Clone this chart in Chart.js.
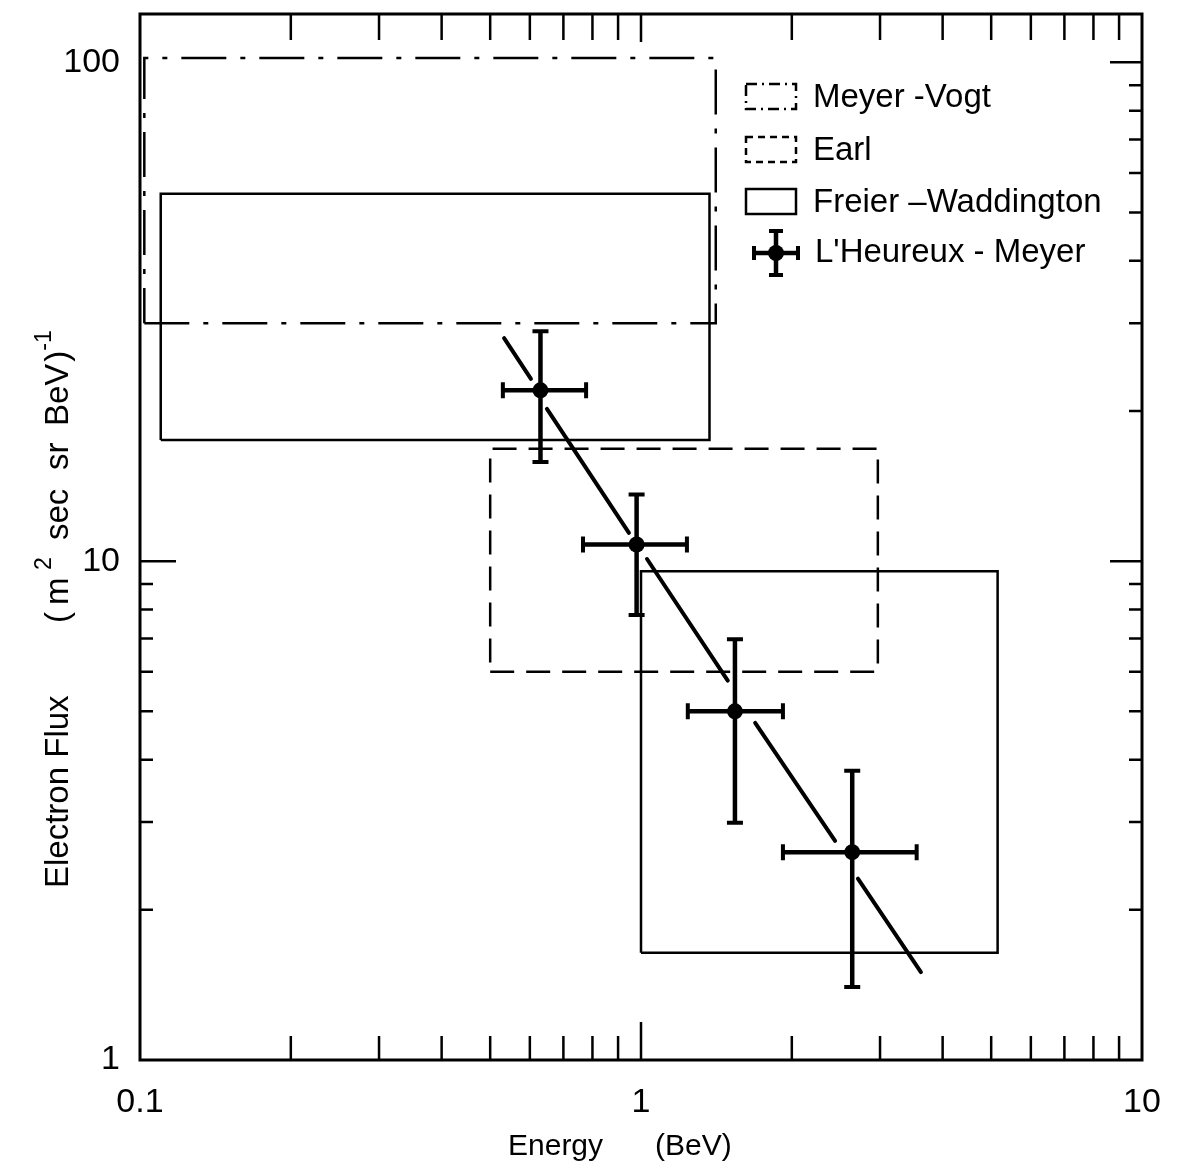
<!DOCTYPE html>
<html>
<head>
<meta charset="utf-8">
<title>Electron Flux vs Energy</title>
<script src="https://cdn.jsdelivr.net/npm/chart.js@4.4.1/dist/chart.umd.min.js"></script>
<style>
  html, body { margin: 0; padding: 0; background: #fff; }
  #wrap { width: 1180px; height: 1169px; }
</style>
</head>
<body>
<div id="wrap"><canvas id="fluxChart" width="1180" height="1169"></canvas></div>
<script>
// Tick values and labels
const xMajorTicks = [0.1, 1, 10];
const xTickLabels = ['0.1', '1', '10'];
const xMinorTicks = [0.2, 0.3, 0.4, 0.5, 0.6, 0.7, 0.8, 0.9, 2, 3, 4, 5, 6, 7, 8, 9];
const yMajorTicks = [1, 10, 100];
const yTickLabels = ['1', '10', '100'];
const yMinorTicksLow = [2, 3, 4, 5, 6, 7, 8, 9];
const yMinorTicksHigh = [20, 30, 40, 50, 60, 70, 80, 90];

const seriesLabels = ['Meyer -Vogt', 'Earl', 'Freier \u2013Waddington', "L'Heureux - Meyer"];

// boxes: [energy low, energy high, flux low, flux high]
const meyerVogtBox = [0.102, 1.41, 30, 102];
const earlBox = [0.5, 2.97, 6.0, 16.8];
const freierBoxA = [0.11, 1.37, 17.5, 54.5];
const freierBoxB = [1.0, 5.15, 1.64, 9.55];

// L'Heureux - Meyer points with error bars
const lhmEnergy = [0.63, 0.98, 1.54, 2.64];
const lhmFlux = [22.0, 10.8, 5.0, 2.61];
const lhmEnergyLo = [0.53, 0.766, 1.24, 1.92];
const lhmEnergyHi = [0.777, 1.235, 1.92, 3.55];
const lhmFluxLo = [15.8, 7.8, 2.99, 1.40];
const lhmFluxHi = [28.9, 13.6, 6.97, 3.80];

// fitted line, drawn broken around the points
const fitEnergy = [[0.533, 0.603], [0.649, 0.946], [1.028, 1.49], [1.69, 2.44], [2.71, 3.62]];
const fitFlux = [[28.0, 23.2], [20.2, 11.4], [10.1, 5.76], [4.74, 2.75], [2.31, 1.50]];

const FONT = '"Liberation Sans", Arial, sans-serif';

function boxPoints(b) {
    return [
        {x: b[0], y: b[2]}, {x: b[1], y: b[2]}, {x: b[1], y: b[3]},
        {x: b[0], y: b[3]}, {x: b[0], y: b[2]}
    ];
}

const freierPoints = boxPoints(freierBoxA).concat([{x: freierBoxA[0], y: null}], boxPoints(freierBoxB));

const fitPoints = [];
fitEnergy.forEach((seg, i) => {
    fitPoints.push({x: seg[0], y: fitFlux[i][0]});
    fitPoints.push({x: seg[1], y: fitFlux[i][1]});
    fitPoints.push({x: seg[1], y: null});
});

const lhmPoints = lhmEnergy.map((e, i) => ({x: e, y: lhmFlux[i]}));

// error bars, frame, inside ticks, legend and y title
const decorPlugin = {
    id: 'decor',
    afterDatasetsDraw(chart) {
        const ctx = chart.ctx;
        const xs = chart.scales.x, ys = chart.scales.y;
        ctx.save();
        ctx.strokeStyle = '#000';
        ctx.lineCap = 'butt';
        lhmEnergy.forEach((e, i) => {
            const px = xs.getPixelForValue(e);
            const py = ys.getPixelForValue(lhmFlux[i]);
            const x0 = xs.getPixelForValue(lhmEnergyLo[i]);
            const x1 = xs.getPixelForValue(lhmEnergyHi[i]);
            const y0 = ys.getPixelForValue(lhmFluxLo[i]);
            const y1 = ys.getPixelForValue(lhmFluxHi[i]);
            ctx.lineWidth = 4.5;
            ctx.beginPath();
            ctx.moveTo(x0, py); ctx.lineTo(x1, py);
            ctx.moveTo(px, y0); ctx.lineTo(px, y1);
            ctx.stroke();
            ctx.lineWidth = 4;
            ctx.beginPath();
            ctx.moveTo(x0, py - 8); ctx.lineTo(x0, py + 8);
            ctx.moveTo(x1, py - 8); ctx.lineTo(x1, py + 8);
            ctx.moveTo(px - 8, y0); ctx.lineTo(px + 8, y0);
            ctx.moveTo(px - 8, y1); ctx.lineTo(px + 8, y1);
            ctx.stroke();
        });
        ctx.restore();
    },
    afterDraw(chart) {
        const ctx = chart.ctx;
        const a = chart.chartArea;
        const xs = chart.scales.x, ys = chart.scales.y;
        ctx.save();
        ctx.strokeStyle = '#000';
        ctx.lineWidth = 3;
        ctx.strokeRect(a.left, a.top, a.right - a.left, a.bottom - a.top);

        ctx.lineWidth = 2.5;
        ctx.beginPath();
        // bottom and top ticks
        xMinorTicks.forEach(v => {
            const px = xs.getPixelForValue(v);
            ctx.moveTo(px, a.bottom); ctx.lineTo(px, a.bottom - 24);
            ctx.moveTo(px, a.top); ctx.lineTo(px, a.top + 26);
        });
        const p1 = xs.getPixelForValue(1);
        ctx.moveTo(p1, a.bottom); ctx.lineTo(p1, a.bottom - 38);
        ctx.moveTo(p1, a.top); ctx.lineTo(p1, a.top + 28);
        // left ticks (lower decade only) and right ticks
        yMinorTicksLow.forEach(v => {
            const py = ys.getPixelForValue(v);
            ctx.moveTo(a.left, py); ctx.lineTo(a.left + 13, py);
            ctx.moveTo(a.right, py); ctx.lineTo(a.right - 13, py);
        });
        yMinorTicksHigh.forEach(v => {
            const py = ys.getPixelForValue(v);
            ctx.moveTo(a.right, py); ctx.lineTo(a.right - 13, py);
        });
        [10, 100].forEach(v => {
            const py = ys.getPixelForValue(v);
            if (v === 10) { ctx.moveTo(a.left, py); ctx.lineTo(a.left + 36, py); }
            ctx.moveTo(a.right, py); ctx.lineTo(a.right - 32, py);
        });
        ctx.stroke();

        // legend
        ctx.fillStyle = '#000';
        ctx.font = '33px ' + FONT;
        ctx.textBaseline = 'alphabetic';
        ctx.lineWidth = 2.5;
        const dashes = [[11, 5, 2, 5], [7, 5], []];
        const rowTop = [84, 137, 189];
        rowTop.forEach((t, i) => {
            ctx.setLineDash(dashes[i]);
            ctx.strokeRect(746, t, 50, 25);
            ctx.setLineDash([]);
            ctx.fillText(seriesLabels[i], 813, t + 23);
        });
        const cx = 776, cy = 253;
        ctx.lineWidth = 4.5;
        ctx.beginPath();
        ctx.moveTo(cx - 22, cy); ctx.lineTo(cx + 22, cy);
        ctx.moveTo(cx, cy - 22); ctx.lineTo(cx, cy + 22);
        ctx.stroke();
        ctx.lineWidth = 4;
        ctx.beginPath();
        ctx.moveTo(cx - 22, cy - 7); ctx.lineTo(cx - 22, cy + 7);
        ctx.moveTo(cx + 22, cy - 7); ctx.lineTo(cx + 22, cy + 7);
        ctx.moveTo(cx - 7, cy - 22); ctx.lineTo(cx + 7, cy - 22);
        ctx.moveTo(cx - 7, cy + 22); ctx.lineTo(cx + 7, cy + 22);
        ctx.stroke();
        ctx.beginPath();
        ctx.arc(cx, cy, 8, 0, Math.PI * 2);
        ctx.fill();
        ctx.fillText(seriesLabels[3], 815, 262);

        // x title
        ctx.font = '30px ' + FONT;
        ctx.fillText('Energy', 508, 1155);
        ctx.fillText('(BeV)', 655, 1155);

        // y title, rotated, with superscripts
        ctx.translate(68, 890);
        ctx.rotate(-Math.PI / 2);
        const pieces = [
            ['Electron Flux', 0, false], ['(', 267, false], ['m', 285, false], ['2', 320, true],
            ['sec', 350, false], ['sr', 420, false], ['BeV', 464, false], [')', 520, false], ['-1', 536, true]
        ];
        let end = 0;
        pieces.forEach(p => {
            ctx.font = (p[2] ? '23px ' : '33px ') + FONT;
            const x = Math.max(p[1], end + (p[2] ? 0 : 2));
            ctx.fillText(p[0], x, p[2] ? -17 : 0);
            end = x + ctx.measureText(p[0]).width;
        });
        ctx.restore();
    }
};

const ctx = document.getElementById('fluxChart').getContext('2d');
const fluxChart = new Chart(ctx, {
    data: {
        datasets: [{
            type: 'line',
            label: seriesLabels[0],
            data: boxPoints(meyerVogtBox),
            borderColor: '#000',
            borderWidth: 2.5,
            borderDash: [45, 14, 5, 14],
            pointRadius: 0,
            fill: false,
            tension: 0
        }, {
            type: 'line',
            label: seriesLabels[1],
            data: boxPoints(earlBox),
            borderColor: '#000',
            borderWidth: 2.5,
            borderDash: [24, 12],
            pointRadius: 0,
            fill: false,
            tension: 0
        }, {
            type: 'line',
            label: seriesLabels[2],
            data: freierPoints,
            borderColor: '#000',
            borderWidth: 2.5,
            pointRadius: 0,
            spanGaps: false,
            fill: false,
            tension: 0
        }, {
            type: 'line',
            label: 'fit',
            data: fitPoints,
            borderColor: '#000',
            borderWidth: 4,
            borderCapStyle: 'round',
            pointRadius: 0,
            spanGaps: false,
            fill: false,
            tension: 0
        }, {
            type: 'scatter',
            label: seriesLabels[3],
            data: lhmPoints,
            backgroundColor: '#000',
            borderWidth: 0,
            pointRadius: 8
        }]
    },
    options: {
        responsive: false,
        animation: false,
        events: [],
        layout: {
            padding: {top: 14, right: 38, left: 0, bottom: 0}
        },
        plugins: {
            legend: {display: false},
            tooltip: {enabled: false}
        },
        scales: {
            x: {
                type: 'logarithmic',
                min: 0.1,
                max: 10,
                grid: {display: false, drawTicks: false},
                border: {display: false},
                afterBuildTicks: s => { s.ticks = xMajorTicks.map(v => ({value: v})); },
                afterFit: s => { s.height = 109; s.paddingLeft = 0; s.paddingRight = 0; },
                ticks: {
                    color: '#000',
                    padding: 22,
                    maxRotation: 0,
                    autoSkip: false,
                    font: {family: FONT, size: 34},
                    callback: v => {
                        const i = xMajorTicks.indexOf(v);
                        return i >= 0 ? xTickLabels[i] : '';
                    }
                }
            },
            y: {
                type: 'logarithmic',
                min: 1,
                max: 125,
                grid: {display: false, drawTicks: false},
                border: {display: false},
                afterBuildTicks: s => { s.ticks = yMajorTicks.map(v => ({value: v})); },
                afterFit: s => { s.width = 140; s.paddingTop = 0; s.paddingBottom = 0; },
                ticks: {
                    color: '#000',
                    padding: 20,
                    autoSkip: false,
                    font: {family: FONT, size: 34},
                    callback: v => {
                        const i = yMajorTicks.indexOf(v);
                        return i >= 0 ? yTickLabels[i] : '';
                    }
                }
            }
        }
    },
    plugins: [decorPlugin]
});
</script>
</body>
</html>
